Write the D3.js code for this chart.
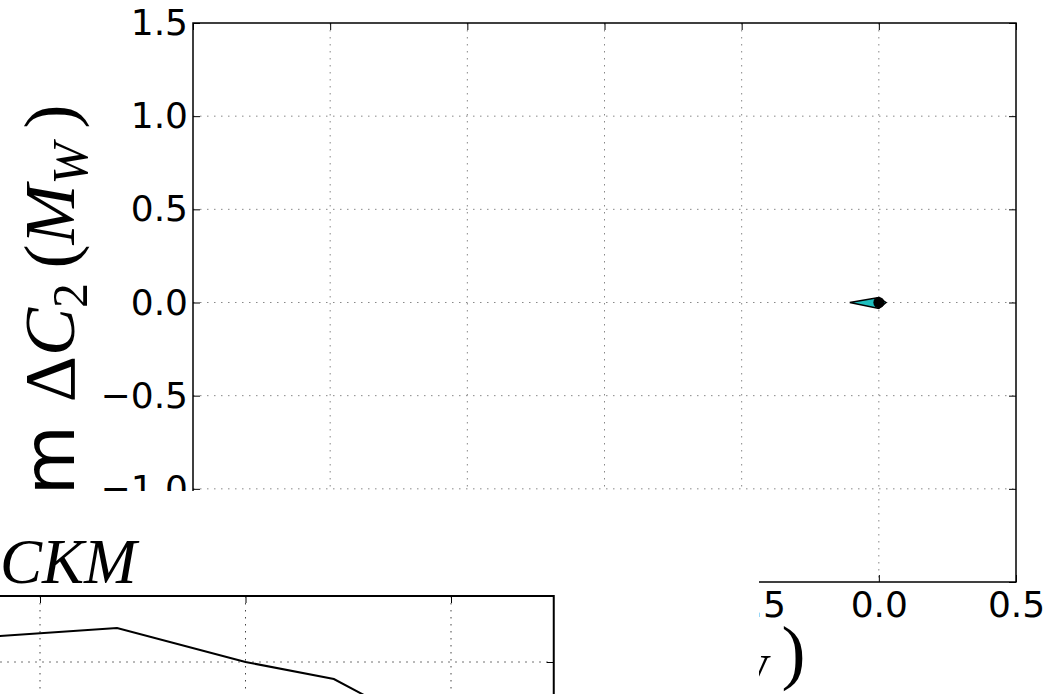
<!DOCTYPE html>
<html>
<head>
<meta charset="utf-8">
<script src="https://cdn.jsdelivr.net/npm/d3@7"></script>
<style>
  body { margin: 0; background: #fff; }
  svg { display: block; }
</style>
</head>
<body>
<div id="chart"></div>
<script>
// top panel: ticks and the small cyan region near the origin
const topXTicks = [-2.5, -2.0, -1.5, -1.0, -0.5, 0.0, 0.5];
const topYTicks = [-1.5, -1.0, -0.5, 0.0, 0.5, 1.0, 1.5];
const regionX = [-0.106, 0.0, 0.026, 0.0];
const regionY = [0.0, 0.027, 0.0, -0.032];
const pointX = [0.0];
const pointY = [0.0];

// lower panel that sits over the bottom-left corner
const lowerXTicks = [0.0, 1.0, 2.0];
const lowerYTicks = [0.5];
const curveX = [-0.34, 0.375, 1.0, 1.43, 1.75];
const curveY = [0.682, 0.758, 0.5, 0.371, 0.106];

const W = 1059, H = 694;
const fmt = d => d3.format(".1f")(d).replace("-", "\u2212");

const svg = d3.select("#chart").append("svg")
    .attr("width", W)
    .attr("height", H);

// ---------- top panel ----------
const x = d3.scaleLinear().domain([-2.5, 0.5]).range([193, 1016]);
const y = d3.scaleLinear().domain([-1.5, 1.5]).range([582, 23]);

const upper = svg.append("g");

// grid
upper.append("g").selectAll("line")
  .data(topXTicks.slice(1, -1))
  .enter().append("line")
    .attr("x1", d => x(d)).attr("x2", d => x(d))
    .attr("y1", y(1.5)).attr("y2", y(-1.5))
    .style("stroke", "#888")
    .style("stroke-width", 1)
    .style("stroke-dasharray", "1.5,5.5");
upper.append("g").selectAll("line")
  .data(topYTicks.slice(1, -1))
  .enter().append("line")
    .attr("x1", x(-2.5)).attr("x2", x(0.5))
    .attr("y1", d => y(d)).attr("y2", d => y(d))
    .style("stroke", "#888")
    .style("stroke-width", 1)
    .style("stroke-dasharray", "1.5,5.5");

// region + point
upper.append("polygon")
  .attr("points", regionX.map((d, i) => [x(d), y(regionY[i])].join(",")).join(" "))
  .style("fill", "#1fbfbf")
  .style("stroke", "#000")
  .style("stroke-width", 1.5);
upper.selectAll("circle")
  .data(pointX)
  .enter().append("circle")
    .attr("cx", d => x(d))
    .attr("cy", (d, i) => y(pointY[i]))
    .attr("r", 5.5)
    .style("fill", "#000");

// axes, matplotlib classic: ticks inward on all four sides
const tickLen = 7;
upper.append("g")
    .attr("transform", `translate(0, ${y(-1.5)})`)
    .call(d3.axisBottom(x).tickValues(topXTicks).tickSize(-tickLen).tickPadding(9).tickFormat(fmt))
    .call(g => g.select(".domain").remove());
upper.append("g")
    .attr("transform", `translate(0, ${y(1.5)})`)
    .call(d3.axisTop(x).tickValues(topXTicks).tickSize(-tickLen).tickFormat(""))
    .call(g => g.select(".domain").remove());
upper.append("g")
    .attr("transform", `translate(${x(-2.5)}, 0)`)
    .call(d3.axisLeft(y).tickValues(topYTicks).tickSize(-tickLen).tickPadding(5).tickFormat(fmt))
    .call(g => g.select(".domain").remove());
upper.append("g")
    .attr("transform", `translate(${x(0.5)}, 0)`)
    .call(d3.axisRight(y).tickValues(topYTicks).tickSize(-tickLen).tickFormat(""))
    .call(g => g.select(".domain").remove());

upper.selectAll(".tick text")
    .style("font-family", "DejaVu Sans")
    .style("font-size", "36px")
    .style("fill", "#000");
upper.selectAll(".tick line").style("stroke", "#000").style("stroke-width", 1);

upper.append("rect")
    .attr("x", x(-2.5)).attr("y", y(1.5))
    .attr("width", x(0.5) - x(-2.5))
    .attr("height", y(-1.5) - y(1.5))
    .style("fill", "none")
    .style("stroke", "#000")
    .style("stroke-width", 1.5);

// axis labels: Re/Im ΔC2(MW)
function mathLabel(sel, prefix) {
  sel.append("tspan").style("font-family", "DejaVu Sans").text(prefix + " ");
  sel.append("tspan").text("\u0394");
  sel.append("tspan").style("font-style", "italic").text("C");
  sel.append("tspan").attr("dy", 13).style("font-size", "50px").text("2");
  sel.append("tspan").attr("dy", -13).text("\u2009(");
  sel.append("tspan").style("font-style", "italic").text("M");
  sel.append("tspan").attr("dy", 13).style("font-size", "50px").style("font-style", "italic").text("W");
  sel.append("tspan").attr("dy", -13).text("\u2009)");
}
const xlab = upper.append("text")
    .attr("x", (x(-2.5) + x(0.5)) / 2 - 5)
    .attr("y", 676)
    .attr("text-anchor", "middle")
    .style("font-family", "Liberation Serif")
    .style("font-size", "72px");
mathLabel(xlab, "Re");
const ylab = upper.append("text")
    .attr("transform", `translate(74, ${(y(1.5) + y(-1.5)) / 2 + 8}) rotate(-90)`)
    .attr("text-anchor", "middle")
    .style("font-family", "Liberation Serif")
    .style("font-size", "72px");
mathLabel(ylab, "Im");

// ---------- lower panel ----------
const low = svg.append("g");
low.append("rect")
    .attr("x", 0).attr("y", 491)
    .attr("width", 759).attr("height", H - 491)
    .style("fill", "#fff");

const lx = d3.scaleLinear().domain([0, 2]).range([40, 451]);
const ly = d3.scaleLinear().domain([0.5, 1.0]).range([662, 596]);

low.append("g").selectAll("line")
  .data(lowerXTicks)
  .enter().append("line")
    .attr("x1", d => lx(d)).attr("x2", d => lx(d))
    .attr("y1", ly(1.0)).attr("y2", ly(-1.0))
    .style("stroke", "#444")
    .style("stroke-width", 1)
    .style("stroke-dasharray", "1.5,5.5");
low.append("g").selectAll("line")
  .data(lowerYTicks)
  .enter().append("line")
    .attr("x1", lx(-0.5)).attr("x2", lx(2.5))
    .attr("y1", d => ly(d)).attr("y2", d => ly(d))
    .style("stroke", "#444")
    .style("stroke-width", 1)
    .style("stroke-dasharray", "1.5,5.5");

low.append("g")
    .attr("transform", `translate(0, ${ly(1.0)})`)
    .call(d3.axisTop(lx).tickValues(lowerXTicks).tickSize(-tickLen).tickFormat(""))
    .call(g => g.select(".domain").remove());
low.append("g")
    .attr("transform", `translate(${lx(2.5)}, 0)`)
    .call(d3.axisRight(ly).tickValues(lowerYTicks).tickSize(-tickLen).tickFormat(""))
    .call(g => g.select(".domain").remove());
low.selectAll(".tick line").style("stroke", "#000").style("stroke-width", 1);

const line = d3.line()
    .x(d => lx(d[0]))
    .y(d => ly(d[1]));
low.append("path")
    .datum(curveX.map((d, i) => [d, curveY[i]]))
    .attr("d", line)
    .style("fill", "none")
    .style("stroke", "#000")
    .style("stroke-width", 2);

low.append("rect")
    .attr("x", lx(-0.5)).attr("y", ly(1.0))
    .attr("width", lx(2.5) - lx(-0.5))
    .attr("height", ly(-1.0) - ly(1.0))
    .style("fill", "none")
    .style("stroke", "#000")
    .style("stroke-width", 2);

low.append("text")
    .attr("x", 0)
    .attr("y", 583)
    .style("font-family", "Liberation Serif")
    .style("font-style", "italic")
    .style("font-size", "63px")
    .text("CKM");
</script>
</body>
</html>
